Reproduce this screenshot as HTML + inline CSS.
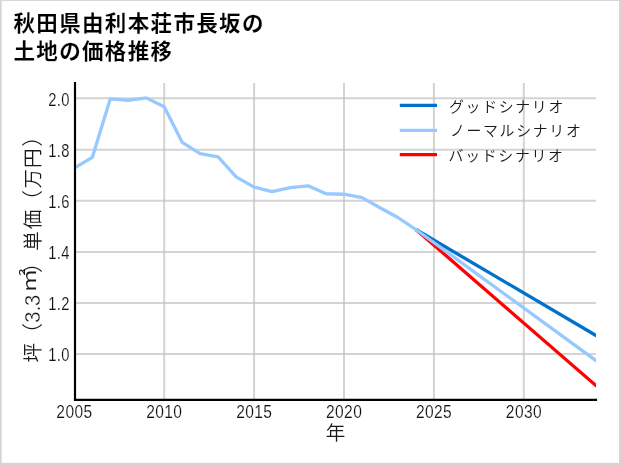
<!DOCTYPE html>
<html lang="ja"><head><meta charset="utf-8"><title>秋田県由利本荘市長坂の土地の価格推移</title>
<style>
html,body{margin:0;padding:0;background:#fff;}
body{width:621px;height:465px;overflow:hidden;}
svg{display:block;}
text{font-family:"Liberation Sans", "Noto Sans CJK JP", sans-serif;fill:#1a1a1a;}
.num{font-family:"Liberation Sans", "Noto Sans CJK JP", sans-serif;font-size:18.3px;font-weight:400;fill:#111;stroke:#fff;stroke-width:0.16px;letter-spacing:0.45px;}
.title{font-size:21.5px;font-weight:700;fill:#000;letter-spacing:1.34px;stroke:#fff;stroke-width:0.14px;}
.lbl{font-size:19.6px;font-weight:350;}
.leg{font-size:14.9px;font-weight:350;letter-spacing:1.68px;}
</style></head><body>
<svg width="621" height="465" viewBox="0 0 621 465">
<rect x="0" y="0" width="621" height="465" fill="#d5d5d5"/>
<rect x="1.7" y="0.95" width="617.35" height="461.9" fill="#ffffff"/>
<text class="title" x="13.5" y="31.3">秋田県由利本荘市長坂の</text>
<text class="title" x="13.5" y="58.8">土地の価格推移</text>
<clipPath id="ax"><rect x="75.0" y="83.05" width="521.0" height="316.84999999999997"/></clipPath>
<g stroke="#d4d4d4" stroke-width="2" fill="none">
<line x1="164.20" y1="83.05" x2="164.20" y2="399.9"/>
<line x1="254.10" y1="83.05" x2="254.10" y2="399.9"/>
<line x1="344.00" y1="83.05" x2="344.00" y2="399.9"/>
<line x1="433.90" y1="83.05" x2="433.90" y2="399.9"/>
<line x1="523.80" y1="83.05" x2="523.80" y2="399.9"/>
<line x1="75.0" y1="353.90" x2="596" y2="353.90"/>
<line x1="75.0" y1="302.90" x2="596" y2="302.90"/>
<line x1="75.0" y1="251.90" x2="596" y2="251.90"/>
<line x1="75.0" y1="200.80" x2="596" y2="200.80"/>
<line x1="75.0" y1="149.80" x2="596" y2="149.80"/>
<line x1="75.0" y1="98.20" x2="596" y2="98.20"/>
</g>
<g fill="#c6c6c6">
<rect x="163.20" y="352.90" width="2" height="2"/>
<rect x="163.20" y="301.90" width="2" height="2"/>
<rect x="163.20" y="250.90" width="2" height="2"/>
<rect x="163.20" y="199.80" width="2" height="2"/>
<rect x="163.20" y="148.80" width="2" height="2"/>
<rect x="163.20" y="97.20" width="2" height="2"/>
<rect x="253.10" y="352.90" width="2" height="2"/>
<rect x="253.10" y="301.90" width="2" height="2"/>
<rect x="253.10" y="250.90" width="2" height="2"/>
<rect x="253.10" y="199.80" width="2" height="2"/>
<rect x="253.10" y="148.80" width="2" height="2"/>
<rect x="253.10" y="97.20" width="2" height="2"/>
<rect x="343.00" y="352.90" width="2" height="2"/>
<rect x="343.00" y="301.90" width="2" height="2"/>
<rect x="343.00" y="250.90" width="2" height="2"/>
<rect x="343.00" y="199.80" width="2" height="2"/>
<rect x="343.00" y="148.80" width="2" height="2"/>
<rect x="343.00" y="97.20" width="2" height="2"/>
<rect x="432.90" y="352.90" width="2" height="2"/>
<rect x="432.90" y="301.90" width="2" height="2"/>
<rect x="432.90" y="250.90" width="2" height="2"/>
<rect x="432.90" y="199.80" width="2" height="2"/>
<rect x="432.90" y="148.80" width="2" height="2"/>
<rect x="432.90" y="97.20" width="2" height="2"/>
<rect x="522.80" y="352.90" width="2" height="2"/>
<rect x="522.80" y="301.90" width="2" height="2"/>
<rect x="522.80" y="250.90" width="2" height="2"/>
<rect x="522.80" y="199.80" width="2" height="2"/>
<rect x="522.80" y="148.80" width="2" height="2"/>
<rect x="522.80" y="97.20" width="2" height="2"/>
</g>
<g clip-path="url(#ax)" fill="none" stroke-width="3.3" stroke-linejoin="round" stroke-linecap="butt">
<polyline stroke="#ff0000" points="415.92,229.52 598.42,387.77"/>
<polyline stroke="#0071cc" points="415.92,229.52 598.42,336.92"/>
<polyline stroke="#97c9ff" points="74.30,168.17 92.28,157.44 110.26,98.91 128.24,100.44 146.22,97.88 164.20,106.83 182.18,142.36 200.16,153.60 218.14,156.93 236.12,176.86 254.10,187.09 272.08,191.69 290.06,187.60 308.04,185.81 326.02,193.73 344.00,194.24 361.98,197.57 379.96,207.79 397.94,217.50 415.92,229.52 598.42,362.35"/>
</g>
<g stroke="#000" stroke-width="2.15" fill="none" stroke-linecap="square">
<line x1="75.0" y1="83.05" x2="75.0" y2="399.9"/>
<line x1="75.0" y1="399.9" x2="596" y2="399.9"/>
</g>
<text class="num" transform="translate(69.8,361.00) scale(0.805,1)" text-anchor="end">1.0</text>
<text class="num" transform="translate(69.8,310.00) scale(0.805,1)" text-anchor="end">1.2</text>
<text class="num" transform="translate(69.8,259.00) scale(0.805,1)" text-anchor="end">1.4</text>
<text class="num" transform="translate(69.8,207.90) scale(0.805,1)" text-anchor="end">1.6</text>
<text class="num" transform="translate(69.8,156.90) scale(0.805,1)" text-anchor="end">1.8</text>
<text class="num" transform="translate(69.8,106.10) scale(0.805,1)" text-anchor="end">2.0</text>
<text class="num" transform="translate(74.40,418.0) scale(0.85,1)" text-anchor="middle">2005</text>
<text class="num" transform="translate(164.30,418.0) scale(0.85,1)" text-anchor="middle">2010</text>
<text class="num" transform="translate(254.20,418.0) scale(0.85,1)" text-anchor="middle">2015</text>
<text class="num" transform="translate(344.10,418.0) scale(0.85,1)" text-anchor="middle">2020</text>
<text class="num" transform="translate(434.00,418.0) scale(0.85,1)" text-anchor="middle">2025</text>
<text class="num" transform="translate(523.90,418.0) scale(0.85,1)" text-anchor="middle">2030</text>
<text class="lbl" x="335.50" y="440.2" text-anchor="middle">年</text>
<text class="lbl" transform="translate(39.5,362.5) rotate(-90)"><tspan x="0.1">坪</tspan><tspan x="18.6" style="font-size:21px">（</tspan><tspan dy="0.1" style="font-size:22.3px;stroke:#fff;stroke-width:0.3px"><tspan x="39.75" textLength="11.16" lengthAdjust="spacingAndGlyphs">3</tspan><tspan x="51.2" textLength="5.58" lengthAdjust="spacingAndGlyphs">.</tspan><tspan x="56.55" textLength="11.16" lengthAdjust="spacingAndGlyphs">3</tspan></tspan><tspan x="69.8" dy="-3.6" style="font-size:19.5px" textLength="24.3" lengthAdjust="spacingAndGlyphs">㎡</tspan><tspan x="89.6" dy="3.5" style="font-size:21px">）</tspan><tspan x="111.7 133.3">単価</tspan><tspan x="151.6" style="font-size:21px">（</tspan><tspan x="174.1 194.5">万円</tspan><tspan x="215.7" style="font-size:21px">）</tspan></text>
<g fill="none" stroke-width="3.3">
<line x1="399.8" y1="105.4" x2="437" y2="105.4" stroke="#0071cc"/>
<line x1="399.8" y1="130.4" x2="437" y2="130.4" stroke="#97c9ff"/>
<line x1="399.8" y1="154.55" x2="437" y2="154.55" stroke="#ff0000"/>
</g>
<text class="leg" x="449.0" y="111.65">グッドシナリオ</text>
<text class="leg" x="449.9" y="136.4">ノーマルシナリオ</text>
<text class="leg" x="448.6" y="161.0">バッドシナリオ</text>
</svg>
</body></html>
